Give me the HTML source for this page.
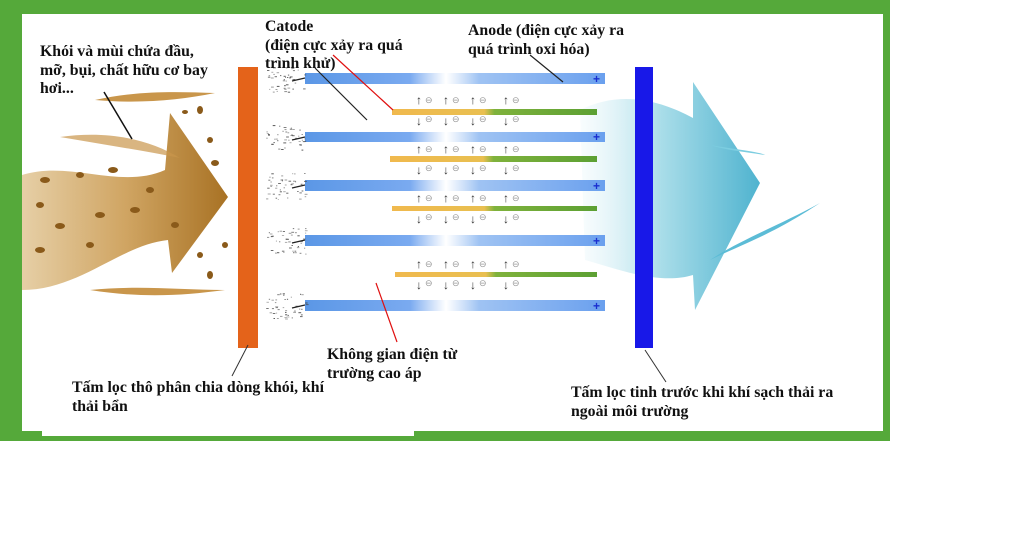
<!DOCTYPE html>
<html><head><meta charset="utf-8"><style>
html,body{margin:0;padding:0;background:#fff;}
body{width:1024px;height:538px;position:relative;overflow:hidden;font-family:"Liberation Serif",serif;}
.t{position:absolute;font-weight:bold;font-size:15.8px;line-height:18.5px;color:#111;white-space:nowrap;}
</style></head><body>
<svg width="1024" height="538" style="position:absolute;left:0;top:0">
<defs>
<linearGradient id="tube" x1="0" x2="1" y1="0" y2="0">
<stop offset="0" stop-color="#5b97e6"/><stop offset="0.35" stop-color="#7aaaf0"/><stop offset="0.47" stop-color="#ffffff" stop-opacity="0.9"/><stop offset="0.58" stop-color="#9fc3f3"/><stop offset="1" stop-color="#6aa0ee"/>
</linearGradient>
<linearGradient id="an" x1="0" x2="1"><stop offset="0" stop-color="#f0b94e"/><stop offset="0.45" stop-color="#e9bf50"/><stop offset="0.5" stop-color="#7fb23c"/><stop offset="1" stop-color="#5ca033"/></linearGradient>
<linearGradient id="brown" x1="0" x2="1"><stop offset="0" stop-color="#e6cfa6"/><stop offset="0.5" stop-color="#d0a563"/><stop offset="1" stop-color="#a87224"/></linearGradient>
<linearGradient id="cyan" x1="0" x2="1"><stop offset="0" stop-color="#e8f6fa" stop-opacity="0.3"/><stop offset="0.45" stop-color="#a9dde9"/><stop offset="1" stop-color="#4fb3cf"/></linearGradient>
</defs>
<rect x="0" y="0" width="890" height="441" fill="#55a93a"/>
<rect x="22" y="14" width="861" height="417" fill="#fff"/>
<rect x="42" y="400" width="372" height="36" fill="#fff"/>
<path d="M22 175 C70 160 120 190 165 170 L170 113 L228 197 L172 273 L168 240 C120 245 80 290 22 290 Z" fill="url(#brown)"/>
<path d="M95 100 C140 90 180 92 215 93 C180 100 140 104 95 100Z" fill="#c9964b"/>
<path d="M90 290 C140 285 180 290 225 290 C180 296 140 298 90 290Z" fill="#c9964b"/>
<path d="M60 137 C110 130 150 140 180 158 C140 150 100 144 60 137Z" fill="#c9964b" opacity="0.7"/>
<g fill="#8a5a1a">
<ellipse cx="45" cy="180" rx="5" ry="3"/><ellipse cx="80" cy="175" rx="4" ry="3"/><ellipse cx="113" cy="170" rx="5" ry="3"/><ellipse cx="40" cy="205" rx="4" ry="3"/><ellipse cx="60" cy="226" rx="5" ry="3"/><ellipse cx="100" cy="215" rx="5" ry="3"/><ellipse cx="135" cy="210" rx="5" ry="3"/><ellipse cx="150" cy="190" rx="4" ry="3"/><ellipse cx="175" cy="225" rx="4" ry="3"/><ellipse cx="200" cy="110" rx="3" ry="4"/><ellipse cx="210" cy="140" rx="3" ry="3"/><ellipse cx="215" cy="163" rx="4" ry="3"/><ellipse cx="225" cy="245" rx="3" ry="3"/><ellipse cx="210" cy="275" rx="3" ry="4"/><ellipse cx="40" cy="250" rx="5" ry="3"/><ellipse cx="90" cy="245" rx="4" ry="3"/><ellipse cx="200" cy="255" rx="3" ry="3"/><ellipse cx="185" cy="112" rx="3" ry="2"/>
</g>
<path d="M580 110 C620 90 660 100 693 118 L693 82 L760 183 L695 310 L693 275 C660 285 620 270 585 260 Z" fill="url(#cyan)"/>
<path d="M710 260 C740 245 770 236 820 203 C780 225 740 240 710 260Z" fill="#5cbcd6"/>
<path d="M710 145 C740 150 760 152 765 155 C745 152 725 150 710 145Z" fill="#7ccde0"/>
<rect x="238" y="67" width="20" height="281" fill="#e4631a"/>
<rect x="635" y="67" width="18" height="281" fill="#1818e8"/>
<g fill="url(#tube)">
<rect x="305" y="73" width="300" height="11"/><rect x="305" y="132" width="300" height="10"/><rect x="305" y="180" width="300" height="11"/><rect x="305" y="235" width="300" height="11"/><rect x="305" y="300" width="300" height="11"/>
</g>
<g fill="#1a2fd0" font-size="12" font-family="Liberation Sans" font-weight="bold">
<text x="593" y="83">+</text><text x="593" y="141">+</text><text x="593" y="190">+</text><text x="593" y="245">+</text><text x="593" y="310">+</text>
</g>
<g fill="url(#an)">
<rect x="392" y="109" width="205" height="6"/><rect x="390" y="156" width="207" height="6"/><rect x="392" y="206" width="205" height="5"/><rect x="395" y="272" width="202" height="5"/>
</g>
<g id="dust" fill="#444"></g>
<g id="arrs" font-family="Liberation Sans" font-size="9" fill="#333"></g>
<line x1="104" y1="92" x2="132" y2="139" stroke="#111" stroke-width="1.5"/>
<line x1="315" y1="68" x2="367" y2="120" stroke="#222" stroke-width="1.2"/>
<line x1="333" y1="55" x2="393" y2="110" stroke="#e01010" stroke-width="1.2"/>
<line x1="376" y1="283" x2="397" y2="342" stroke="#e01010" stroke-width="1.2"/>
<line x1="530" y1="55" x2="563" y2="82" stroke="#222" stroke-width="1.2"/>
<line x1="248" y1="345" x2="232" y2="376" stroke="#333" stroke-width="1"/>
<line x1="645" y1="350" x2="666" y2="382" stroke="#333" stroke-width="1"/>
</svg>
<div class="t" style="left:40px;top:43px">Khói và mùi chứa đầu,<br>mỡ, bụi, chất hữu cơ bay<br>hơi...</div>
<div class="t" style="left:265px;top:18px">Catode<br>(điện cực xảy ra quá<br>trình khử)</div>
<div class="t" style="left:468px;top:22px">Anode (điện cực xảy ra<br>quá trình oxi hóa)</div>
<div class="t" style="left:327px;top:346px">Không gian điện từ<br>trường cao áp</div>
<div class="t" style="left:72px;top:379px">Tấm lọc thô phân chia dòng khói, khí<br>thải bẩn</div>
<div class="t" style="left:571px;top:384px">Tấm lọc tinh trước khi khí sạch thải ra<br>ngoài môi trường</div>
<script>
var g=document.getElementById('arrs'),xs=[419,446,473,506],ys=[[100,121],[149,170],[198,219],[264,285]],h='';
ys.forEach(function(p){xs.forEach(function(x){
h+='<text x="'+(x-3)+'" y="'+(p[0]+4)+'" font-size="12" font-weight="bold">↑</text><text x="'+(x+6)+'" y="'+(p[0]+3)+'" fill="#999">⊖</text>';
h+='<text x="'+(x-3)+'" y="'+(p[1]+4)+'" font-size="12" font-weight="bold">↓</text><text x="'+(x+6)+'" y="'+(p[1]+1)+'" fill="#999">⊖</text>';
});});
g.innerHTML=h;
var d=document.getElementById('dust'),s='',seed=7;function r(){seed=(seed*9301+49297)%233280;return seed/233280;}
[78,137,185,240,305].forEach(function(c){for(var i=0;i<45;i++){var x=266+r()*40,y=c-12+r()*26;s+='<rect x="'+x.toFixed(1)+'" y="'+y.toFixed(1)+'" width="'+(1+r()*2).toFixed(1)+'" height="1" opacity="'+(0.4+r()*0.5).toFixed(2)+'"/>';}
s+='<line x1="292" y1="'+(c+3)+'" x2="305" y2="'+c+'" stroke="#222" stroke-width="1.2"/>';});
d.innerHTML=s;
</script>
</body></html>
